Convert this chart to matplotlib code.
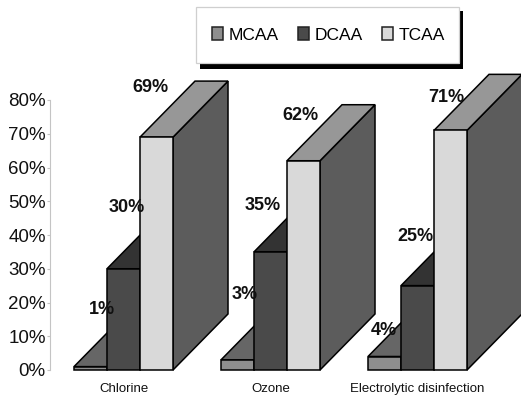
import matplotlib
matplotlib.use("Agg")
import matplotlib.pyplot as plt
from matplotlib.patches import Patch, Polygon, Rectangle

plt.rcParams['font.family'] = ['Liberation Sans', 'DejaVu Sans']

# ----- Data -----
categories = ["Chlorine", "Ozone", "Electrolytic disinfection"]
series_names = ["MCAA", "DCAA", "TCAA"]
mcaa = [1, 3, 4]
dcaa = [30, 35, 25]
tcaa = [69, 62, 71]
yticks = [0, 10, 20, 30, 40, 50, 60, 70, 80]

# ----- Style: front, top, side -----
colors = {"MCAA": ("#8e8e8e", "#666666", "#555555"),
          "DCAA": ("#4a4a4a", "#333333", "#333333"),
          "TCAA": ("#d9d9d9", "#979797", "#5c5c5c")}

W, H = 521, 398
fig = plt.figure(figsize=(W / 100, H / 100), dpi=100, facecolor="white")
ax = fig.add_axes([50 / W, (H - 370) / H, 471 / W, 270 / H])
ax.set_xlim(-0.5, 2.704)
ax.set_ylim(0, 80)

bar_w = 33 / 147
dx = 55 / 147   # depth of the 3d box, x units
dy = 16.6       # depth of the 3d box, y units


def box(x0, val, cols):
    x1 = x0 + bar_w
    side = [(x1, 0), (x1 + dx, dy), (x1 + dx, val + dy), (x1, val)]
    top = [(x0, val), (x0 + dx, val + dy), (x1 + dx, val + dy), (x1, val)]
    front = [(x0, 0), (x1, 0), (x1, val), (x0, val)]
    for pts, c in zip((side, top, front), (cols[2], cols[1], cols[0])):
        ax.add_patch(Polygon(pts, closed=True, facecolor=c, edgecolor="black",
                             linewidth=1.1, joinstyle="miter", clip_on=False))


all_series = [mcaa, dcaa, tcaa]
# hand placed data labels, pixels from the front top of each bar
label_off = {"MCAA": [(11, 57), (7, 65), (-1, 26)],
             "DCAA": [(3, 61), (-8, 46), (-2, 49)],
             "TCAA": [(-6, 50), (-3, 45), (-4, 33)]}

for i in range(len(categories)):
    for j, name in enumerate(series_names):
        x0 = i - 1.5 * bar_w + j * bar_w
        val = all_series[j][i]
        box(x0, val, colors[name])
        ax.annotate(f"{val}%", (x0 + bar_w / 2, val), xycoords="data",
                    xytext=label_off[name][i], textcoords="offset pixels",
                    ha="center", va="center", fontsize=13, fontweight="bold",
                    color="#111111", zorder=10, annotation_clip=False)

for s in ("top", "right", "bottom"):
    ax.spines[s].set_visible(False)
ax.spines["left"].set_color("#c4c4c4")
ax.spines["left"].set_linewidth(0.8)
ax.set_yticks(yticks)
ax.set_yticklabels([f"{v}%" for v in yticks], fontsize=13.5, color="#111111")
ax.tick_params(axis="y", length=2, width=0.8, color="#c4c4c4", pad=1)
ax.set_xticks(range(len(categories)))
ax.set_xticklabels(categories, fontsize=9.5, color="#111111")
ax.tick_params(axis="x", length=0, pad=9.5)

# legend frame and its hard shadow
fig.add_artist(Rectangle((200 / W, (H - 69) / H), 263 / W, 58 / H, transform=fig.transFigure,
                         facecolor="black", edgecolor="none", zorder=3))
fig.add_artist(Rectangle((196 / W, (H - 63) / H), 263 / W, 56 / H, transform=fig.transFigure,
                         facecolor="white", edgecolor="#cfcfcf", linewidth=0.9, zorder=4))

handles = [Patch(facecolor=colors[n][0], edgecolor="#222222", linewidth=1.1, label=n)
           for n in series_names]
fig.legend(handles=handles, ncol=3, loc="center", mode="expand",
           bbox_to_anchor=(212 / W, (H - 51) / H, 233 / W, 32 / H),
           fontsize=12.5, frameon=False, borderaxespad=0, borderpad=0,
           handlelength=0.62, handleheight=0.8, handletextpad=0.35)

fig.savefig("out.png", dpi=100)
